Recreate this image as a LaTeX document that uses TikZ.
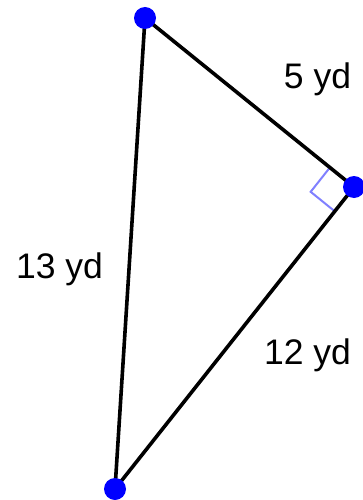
\documentclass[tikz,border=0pt]{standalone}
\usepackage{fontspec}
\setmainfont{Liberation Sans}
\usetikzlibrary{calc}
\definecolor{triDot}{HTML}{0000FF}
\definecolor{triMark}{HTML}{8080FF}
\tikzset{
  side/.style={line width=3.6pt, black, line join=round},
  vertex/.style={circle, fill=triDot, inner sep=0pt, minimum size=22pt},
  rightmark/.style={line width=2pt, triMark},
  sidelabel/.style={font=\fontsize{35.5}{42}\selectfont, inner sep=0pt, anchor=base}
}
\begin{document}
\begin{tikzpicture}[x=1pt, y=-1pt]
  \useasboundingbox (0,0) rectangle (362,500);
  \coordinate (T) at (145,18);
  \coordinate (R) at (354,187);
  \coordinate (B) at (115,489);
  % right angle at R
  \coordinate (m1) at ($(R)!31pt!(T)$);
  \coordinate (m2) at ($(R)!31pt!(B)$);
  \coordinate (mc) at ($(m1)+(m2)-(R)$);
  \draw[rightmark] (m1) -- (mc) -- (m2);
  \draw[side] (T) -- (R) -- (B) -- cycle;
  \node[vertex] (top) at (T) {};
  \node[vertex] (right) at (R) {};
  \node[vertex] (bottom) at (B) {};
  \node[sidelabel] (a) at (317.5,89) {5 yd};
  \node[sidelabel] (c) at (59.5,278) {13 yd};
  \node[sidelabel] (b) at (307.5,364) {12 yd};
\end{tikzpicture}
\end{document}
